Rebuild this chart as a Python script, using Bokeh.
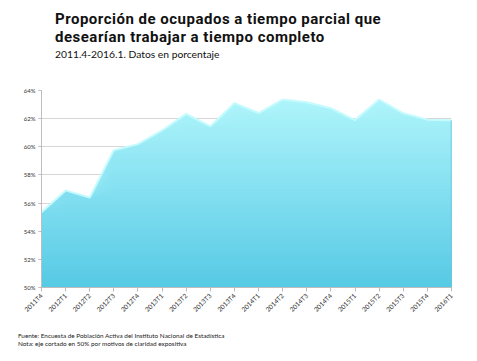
import math
import numpy as np
from bokeh.plotting import figure
from bokeh.layouts import column
from bokeh.models import Range1d, FixedTicker, PrintfTickFormatter, Div
from bokeh.embed import file_html
from bokeh.resources import INLINE

categories = ["2011T4", "2012T1", "2012T2", "2012T3", "2012T4", "2013T1", "2013T2", "2013T3",
              "2013T4", "2014T1", "2014T2", "2014T3", "2014T4", "2015T1", "2015T2", "2015T3",
              "2015T4", "2016T1"]
values = [55.35, 56.9, 56.4, 59.76, 60.19, 61.16, 62.34, 61.45, 63.1, 62.4, 63.36, 63.17,
          62.74, 61.9, 63.36, 62.38, 61.93, 61.88]
y_ticks = [50, 52, 54, 56, 58, 60, 62, 64]

title_1 = "Proporción de ocupados a tiempo parcial que"
title_2 = "desearían trabajar a tiempo completo"
subtitle = "2011.4-2016.1. Datos en porcentaje"
note_1 = "Fuente: Encuesta de Población Activa del Instituto Nacional de Estadística"
note_2 = "Nota: eje cortado en 50% por motivos de claridad expositiva"

x = list(range(len(categories)))
Y0, Y1 = 50, 64

W = 470
TOP_DIV_H = 66
FIG_H = 254
BOT_DIV_H = 34

top_div = Div(width=W, height=TOP_DIV_H, margin=0, text=f"""
<div style="position:relative;width:{W}px;height:{TOP_DIV_H}px;color:#111;white-space:nowrap">
  <div style="position:absolute;left:55px;top:11px;font-family:Roboto;font-size:15px;line-height:17.6px;letter-spacing:0.5px;font-weight:bold">{title_1}<br>{title_2}</div>
  <div style="position:absolute;left:55px;top:49px;font-family:Lato;font-size:10.3px;line-height:11px">{subtitle}</div>
</div>""")

bot_div = Div(width=W, height=BOT_DIV_H, margin=0, text=f"""
<div style="position:relative;width:{W}px;height:{BOT_DIV_H}px;font-family:Lato;color:#222;white-space:nowrap">
  <div style="position:absolute;left:18px;top:12px;font-size:6.4px;line-height:7.8px">{note_1}<br>{note_2}</div>
</div>""")

p = figure(width=W, height=FIG_H, output_backend="svg", toolbar_location=None,
           x_range=Range1d(0, len(categories) - 1), y_range=Range1d(Y0, Y1),
           min_border_left=41, min_border_right=W - 451, min_border_top=24,
           min_border_bottom=33, margin=0)
p.outline_line_color = None

# vertical colour gradient of the area: successive layers of the same area, each cut at a lower level
def grad_color(t):
    top, mid, bot = np.array([178, 246, 251]), np.array([132, 224, 241]), np.array([85, 201, 228])
    f = (t - Y0) / (Y1 - Y0)
    c = bot + (mid - bot) * (f / 0.5) if f < 0.5 else mid + (top - mid) * ((f - 0.5) / 0.5)
    return "#%02x%02x%02x" % tuple(int(round(v)) for v in c)

vals = np.array(values)
levels = np.arange(Y1, Y0, -0.25)
for t in levels:
    p.varea(x=x, y1=[Y0] * len(x), y2=np.minimum(vals, t), fill_color=grad_color(t), fill_alpha=1.0)

p.line(x=x, y=values, line_color="#c6fbfe", line_width=2)
p.segment(x0=[x[-1]], y0=[Y0], x1=[x[-1]], y1=[values[-1]], line_color="#6fc3dc", line_width=1.5)

p.xaxis.ticker = FixedTicker(ticks=x)
p.xaxis.major_label_overrides = {i: c for i, c in zip(x, categories)}
p.xaxis.major_label_orientation = math.pi / 4
p.xaxis.major_label_text_font = "Lato"
p.xaxis.major_label_text_font_size = "6.5px"
p.xaxis.major_label_text_color = "#333333"
p.xaxis.minor_tick_line_color = None
p.xaxis.major_tick_out = 4
p.xaxis.major_tick_in = 0
p.xaxis.axis_line_color = "#bdbdbd"
p.xaxis.major_tick_line_color = "#bdbdbd"
p.xaxis.major_label_standoff = 3

p.yaxis.ticker = FixedTicker(ticks=y_ticks)
p.yaxis.formatter = PrintfTickFormatter(format="%d%%")
p.yaxis.major_label_text_font = "Lato"
p.yaxis.major_label_text_font_size = "6px"
p.yaxis.major_label_text_color = "#333333"
p.yaxis.minor_tick_line_color = None
p.yaxis.major_tick_out = 3
p.yaxis.major_tick_in = 0
p.yaxis.axis_line_color = "#bdbdbd"
p.yaxis.major_tick_line_color = "#bdbdbd"
p.yaxis.major_label_standoff = 3

p.xgrid.grid_line_color = None
p.ygrid.ticker = FixedTicker(ticks=y_ticks)
p.ygrid.grid_line_color = "#d6d6d6"
p.ygrid.grid_line_width = 1.2

layout = column(top_div, p, bot_div, spacing=0, margin=0)
open("out.html", "w").write(file_html(layout, INLINE))
